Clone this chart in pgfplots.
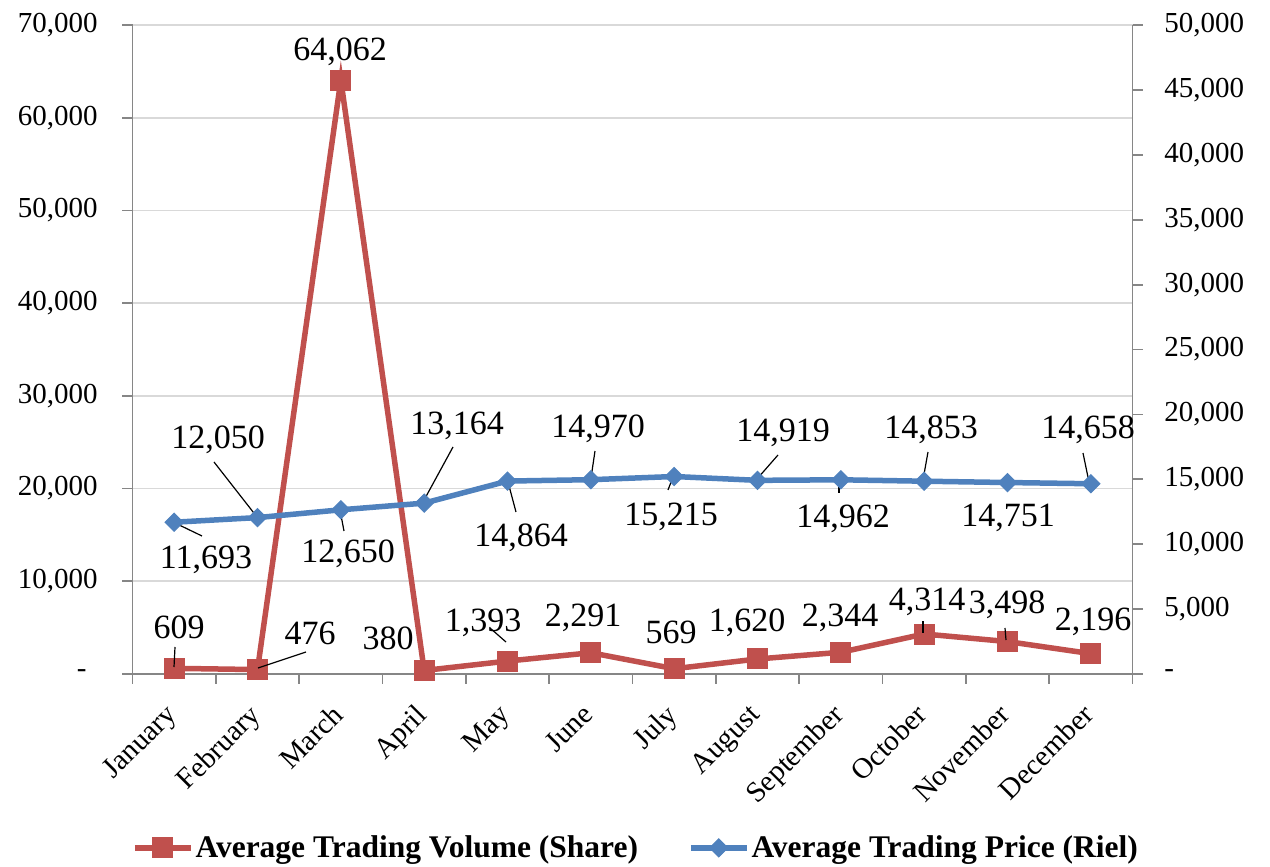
\documentclass[border=0pt]{standalone}
\usepackage{pgfplots}
\pgfplotsset{compat=1.18}
\usepackage{fontspec}
\setmainfont{Liberation Serif}
\definecolor{volred}{HTML}{C0504D}
\definecolor{priceblue}{HTML}{4F81BD}
\definecolor{axgray}{HTML}{868686}
\definecolor{gridgray}{HTML}{D9D9D9}
\newcommand{\tickfont}{\fontsize{14.5}{17}\selectfont}
\newcommand{\labfont}{\fontsize{17}{20}\selectfont}
\begin{document}
\begin{tikzpicture}
\path[use as bounding box] (0pt,0pt) rectangle (635pt,433.5pt);
% ---------------- volume (left axis) ----------------
\begin{axis}[
  at={(66.25pt,96.5pt)}, anchor=south west,
  scale only axis, width=500pt, height=324.5pt,
  xmin=0.5, xmax=12.5, ymin=0, ymax=70000,
  scaled y ticks=false,
  axis x line*=bottom, axis y line*=left,
  axis line style={-, axgray, line width=0.9pt},
  tick align=outside, major tick length=5pt,
  tick style={axgray, line width=0.9pt},
  ymajorgrids, grid style={gridgray, line width=0.9pt},
  ytick={0,10000,20000,30000,40000,50000,60000,70000},
  yticklabels={{-\hspace*{5.5pt}},{10,000},{20,000},{30,000},{40,000},{50,000},{60,000},{70,000}},
  yticklabel style={font=\tickfont, anchor=east, inner sep=0pt, xshift=-12.25pt},
  xtick={0.5,1.5,...,12.5},
  xticklabels={},
  extra x ticks={1,2,3,4,5,6,7,8,9,10,11,12},
  extra x tick labels={January,February,March,April,May,June,July,August,September,October,November,December},
  extra x tick style={major tick length=0pt, xticklabel style={font=\tickfont, xshift=-5pt, yshift=-14pt, rotate=45, anchor=north east, inner sep=0pt}},
  clip=false,
]
\addplot[volred, line width=2.75pt, mark=square*, mark size=5pt, mark options={solid, line width=0.5pt}]
  coordinates {(1,609)(2,476)(3,64062)(4,380)(5,1393)(6,2291)(7,569)(8,1620)(9,2344)(10,4314)(11,3498)(12,2196)};
\end{axis}
% ---------------- price (right axis) ----------------
\begin{axis}[
  at={(66.25pt,96.5pt)}, anchor=south west,
  scale only axis, width=500pt, height=324.5pt,
  xmin=0.5, xmax=12.5, ymin=0, ymax=50000,
  scaled y ticks=false,
  axis x line=none, axis y line*=right,
  axis line style={-, axgray, line width=0.9pt},
  tick align=outside, major tick length=5pt,
  tick style={axgray, line width=0.9pt},
  ytick={0,5000,10000,15000,20000,25000,30000,35000,40000,45000,50000},
  yticklabels={-,{5,000},{10,000},{15,000},{20,000},{25,000},{30,000},{35,000},{40,000},{45,000},{50,000}},
  yticklabel style={font=\tickfont, anchor=west, inner sep=0pt, xshift=10.75pt},
  clip=false,
  legend style={at={(0.5035,-0.268)}, anchor=center, legend columns=2, draw=none, fill=none,
    font=\bfseries\fontsize{15.75}{18}\selectfont,
    /tikz/every even column/.append style={column sep=24pt},
    nodes={inner sep=1pt}},
  legend image code/.code={\draw[mark repeat=2,mark phase=2,#1] plot coordinates {(0pt,0pt)(14pt,0pt)(28pt,0pt)};},
]
\addlegendimage{volred, line width=2.75pt, mark=square*, mark size=5pt, mark options={solid, line width=0.5pt}}
\addlegendentry{Average Trading Volume (Share)}
\addplot[priceblue, line width=2.75pt, mark=square*, mark size=3.2pt, mark options={solid, rotate=45, line width=0.5pt}]
  coordinates {(1,11693)(2,12050)(3,12650)(4,13164)(5,14864)(6,14970)(7,15215)(8,14919)(9,14962)(10,14853)(11,14751)(12,14658)};
\addlegendentry{Average Trading Price (Riel)}
% leader lines (price units)
\begin{scope}[black, line width=0.6pt]
\draw (axis cs:1.010,2080) -- (axis cs:0.998,539);
\draw (axis cs:2.582,1695) -- (axis cs:2.006,462);
\draw (axis cs:4.790,3544) -- (axis cs:4.982,2465);
\draw (axis cs:9.986,4083) -- (axis cs:9.986,3159);
\draw (axis cs:10.970,3544) -- (axis cs:10.982,2619);
\draw (axis cs:1.334,10632) -- (axis cs:0.986,11710);
\draw (axis cs:1.478,16333) -- (axis cs:1.994,12096);
\draw (axis cs:3.038,11017) -- (axis cs:2.990,12635);
\draw (axis cs:4.346,17489) -- (axis cs:3.986,13251);
\draw (axis cs:5.102,12481) -- (axis cs:5.006,14792);
\draw (axis cs:6.050,17180) -- (axis cs:6.002,15100);
\draw (axis cs:6.926,14176) -- (axis cs:6.986,15177);
\draw (axis cs:8.246,16872) -- (axis cs:7.994,15023);
\draw (axis cs:8.978,13945) -- (axis cs:8.978,14946);
\draw (axis cs:10.046,17103) -- (axis cs:9.986,14946);
\draw (axis cs:11.906,17026) -- (axis cs:11.978,14792);
\end{scope}
% volume labels
\begin{scope}[every node/.style={font=\labfont, inner sep=0pt}]
\node at (axis cs:1.058,3621) {609};
\node at (axis cs:2.630,3159) {476};
\node at (axis cs:2.990,47920) {64,062};
\node at (axis cs:3.566,2774) {380};
\node at (axis cs:4.706,3929) {1,393};
\node at (axis cs:5.906,4314) {2,291};
\node at (axis cs:6.962,3236) {569};
\node at (axis cs:7.874,3929) {1,620};
\node at (axis cs:8.990,4314) {2,344};
\node at (axis cs:10.034,5547) {4,314};
\node at (axis cs:10.994,5316) {3,498};
\node at (axis cs:12.026,4006) {2,196};
% price labels
\node at (axis cs:1.382,8783) {11,693};
\node at (axis cs:1.526,18028) {12,050};
\node at (axis cs:3.086,9245) {12,650};
\node at (axis cs:4.394,19106) {13,164};
\node at (axis cs:5.162,10478) {14,864};
\node at (axis cs:6.086,18875) {14,970};
\node at (axis cs:6.962,12096) {15,215};
\node at (axis cs:8.306,18567) {14,919};
\node at (axis cs:9.026,11942) {14,962};
\node at (axis cs:10.082,18798) {14,853};
\node at (axis cs:11.006,12019) {14,751};
\node at (axis cs:11.966,18798) {14,658};
\end{scope}
\end{axis}
\end{tikzpicture}
\end{document}
